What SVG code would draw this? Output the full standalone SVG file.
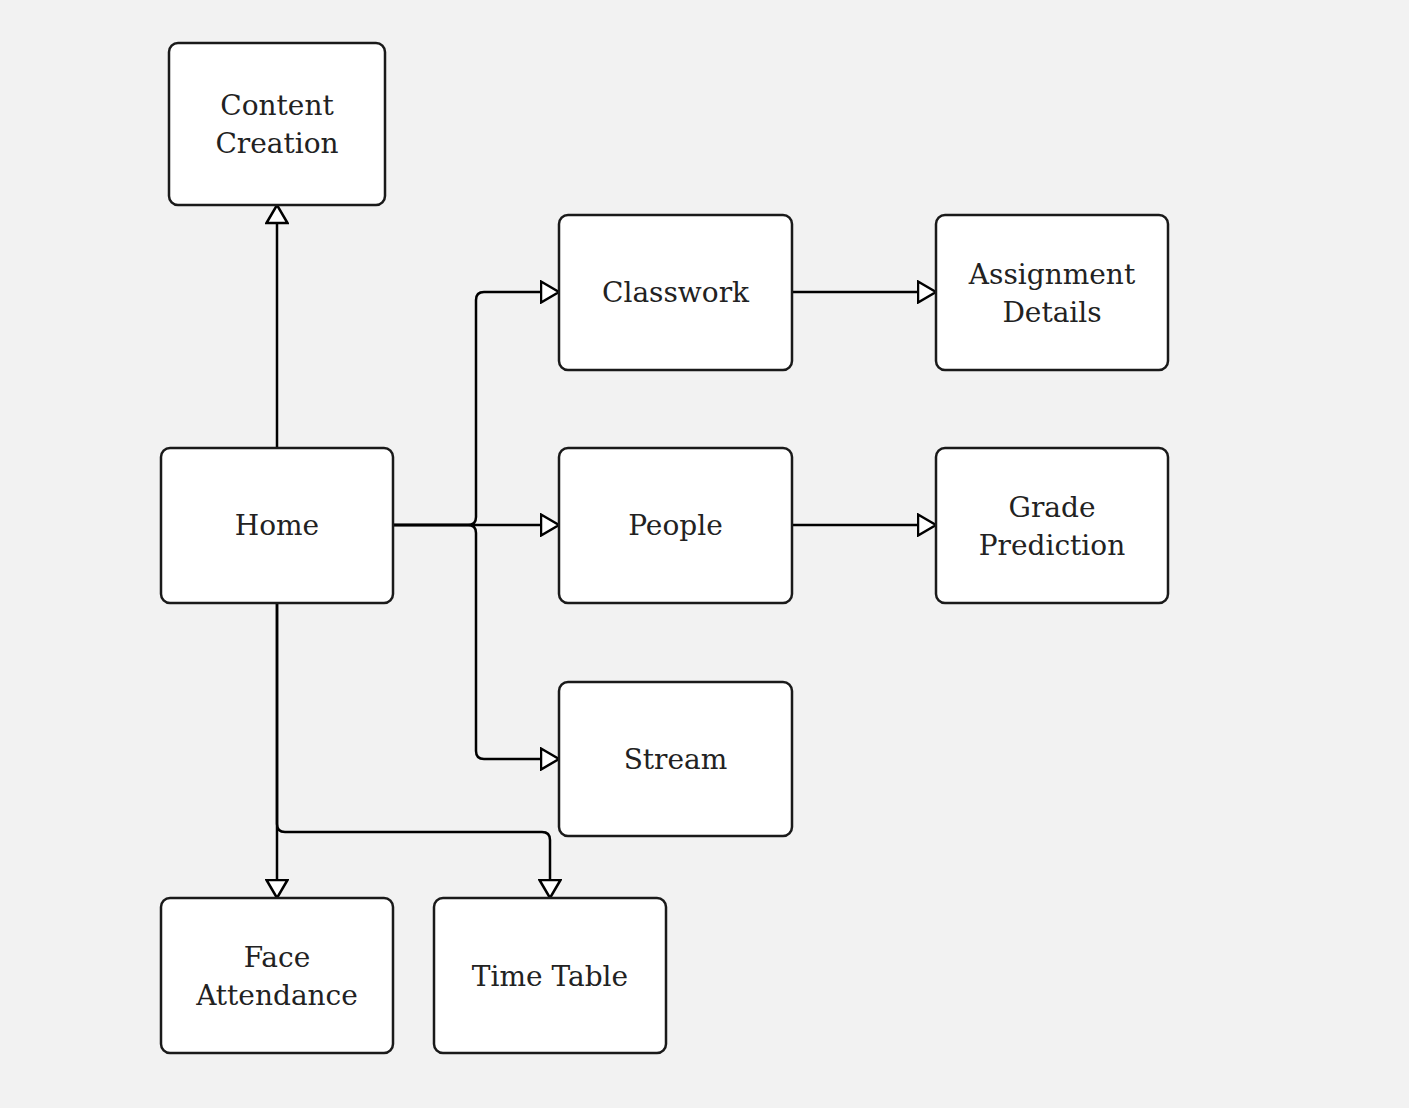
<svg xmlns="http://www.w3.org/2000/svg" width="1409" height="1108" viewBox="0 0 1409 1108">
<defs>
<style>
.node rect{fill:#ffffff;stroke:#1a1a1a;stroke-width:2.5}
.node text{font-family:"DejaVu Serif","Liberation Serif",serif;font-size:28px;fill:#222222;text-anchor:middle}
.edges path{fill:none;stroke:#000000;stroke-width:2.5}
</style>
<marker id="tri" viewBox="0 0 21 24" refX="19.5" refY="12" markerWidth="21" markerHeight="24" markerUnits="userSpaceOnUse" orient="auto">
<path d="M1.5,1.5 L19.5,12 L1.5,22.5 Z" fill="#ffffff" stroke="#000000" stroke-width="2.5"/>
</marker>
</defs>
<rect x="0" y="0" width="1409" height="1108" fill="#f2f2f2"/>
<g class="edges">
<path d="M277,448 V205" marker-end="url(#tri)"/>
<path d="M393,525 H559" marker-end="url(#tri)"/>
<path d="M393,525 H468 Q476,525 476,517 V300 Q476,292 484,292 H559" marker-end="url(#tri)"/>
<path d="M393,525 H468 Q476,525 476,533 V751 Q476,759 484,759 H559" marker-end="url(#tri)"/>
<path d="M792,292 H936" marker-end="url(#tri)"/>
<path d="M792,525 H936" marker-end="url(#tri)"/>
<path d="M277,603 V898" marker-end="url(#tri)"/>
<path d="M277,603 V824 Q277,832 285,832 H542 Q550,832 550,840 V898" marker-end="url(#tri)"/>
</g>
<g id="content-creation" class="node"><rect x="169" y="43" width="216" height="162" rx="9"/><text x="277" y="115">Content</text><text x="277" y="153">Creation</text></g>
<g id="home" class="node"><rect x="161" y="448" width="232" height="155" rx="9"/><text x="277" y="535">Home</text></g>
<g id="classwork" class="node"><rect x="559" y="215" width="233" height="155" rx="9"/><text x="675.5" y="302">Classwork</text></g>
<g id="assignment-details" class="node"><rect x="936" y="215" width="232" height="155" rx="9"/><text x="1052" y="284">Assignment</text><text x="1052" y="322">Details</text></g>
<g id="people" class="node"><rect x="559" y="448" width="233" height="155" rx="9"/><text x="675.5" y="535">People</text></g>
<g id="grade-prediction" class="node"><rect x="936" y="448" width="232" height="155" rx="9"/><text x="1052" y="517">Grade</text><text x="1052" y="555">Prediction</text></g>
<g id="stream" class="node"><rect x="559" y="682" width="233" height="154" rx="9"/><text x="675.5" y="769">Stream</text></g>
<g id="face-attendance" class="node"><rect x="161" y="898" width="232" height="155" rx="9"/><text x="277" y="967">Face</text><text x="277" y="1005">Attendance</text></g>
<g id="time-table" class="node"><rect x="434" y="898" width="232" height="155" rx="9"/><text x="550" y="986">Time Table</text></g>
</svg>
